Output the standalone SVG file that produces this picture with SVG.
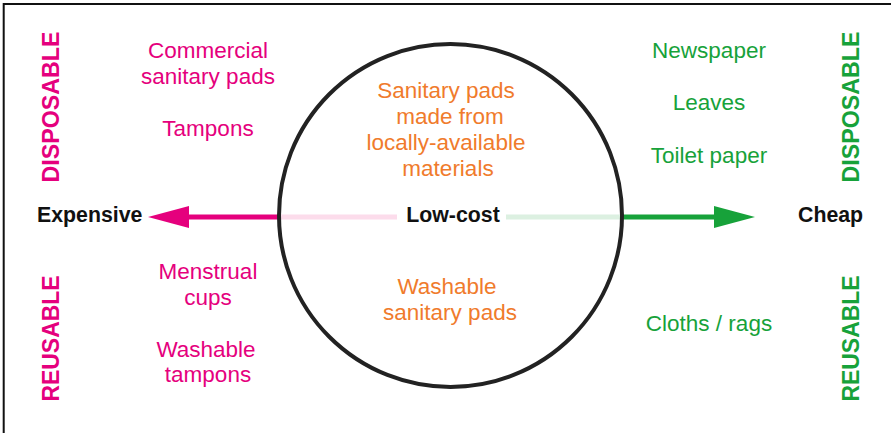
<svg xmlns="http://www.w3.org/2000/svg" width="891" height="433" viewBox="0 0 891 433">
  <style>
    text { font-family: "Liberation Sans", Arial, Helvetica, sans-serif; }
    .item { font-size: 22.5px; text-anchor: middle; }
    .pink { fill: #E5007D; }
    .green { fill: #17A23A; }
    .orange { fill: #F07B2C; }
    .axis { font-size: 21.3px; font-weight: bold; fill: #111; }
    .side { font-size: 24.5px; font-weight: bold; text-anchor: middle; }
  </style>
  <defs>
    <marker id="headPink" viewBox="0 0 41 22" refX="0" refY="11" markerWidth="41" markerHeight="22" markerUnits="userSpaceOnUse" orient="auto">
      <path d="M0,0 L41,11 L0,22 Z" fill="#E5007D"/>
    </marker>
    <marker id="headGreen" viewBox="0 0 41 22" refX="0" refY="11" markerWidth="41" markerHeight="22" markerUnits="userSpaceOnUse" orient="auto">
      <path d="M0,0 L41,11 L0,22 Z" fill="#17A23A"/>
    </marker>
  </defs>

  <rect width="891" height="433" fill="#fff"/>
  <!-- frame edges -->
  <path d="M3.7,433 V4 H891" fill="none" stroke="#111" stroke-width="2"/>

  <!-- cost axis -->
  <g id="connectors">
    <line x1="278" y1="217" x2="397" y2="217" stroke="#FCDCEB" stroke-width="5"/>
    <line x1="506" y1="217" x2="623" y2="217" stroke="#DCF0E1" stroke-width="5"/>
    <line x1="278" y1="217" x2="189" y2="217" stroke="#E5007D" stroke-width="5" marker-end="url(#headPink)"/>
    <line x1="623" y1="217" x2="714" y2="217" stroke="#17A23A" stroke-width="5" marker-end="url(#headGreen)"/>
  </g>

  <g id="low-cost-circle">
    <circle cx="450.5" cy="215.5" r="171.5" fill="none" stroke="#222" stroke-width="4"/>
  </g>

  <g id="axis-labels">
    <text class="axis" x="37" y="222">Expensive</text>
    <text class="axis" x="453" y="222" text-anchor="middle">Low-cost</text>
    <text class="axis" x="798" y="222">Cheap</text>
  </g>

  <g id="side-labels">
    <text class="side pink" transform="translate(59,107) rotate(-90)" textLength="151" lengthAdjust="spacingAndGlyphs">DISPOSABLE</text>
    <text class="side pink" transform="translate(59,338.5) rotate(-90)" textLength="126" lengthAdjust="spacingAndGlyphs">REUSABLE</text>
    <text class="side green" transform="translate(859,107) rotate(-90)" textLength="151" lengthAdjust="spacingAndGlyphs">DISPOSABLE</text>
    <text class="side green" transform="translate(859,338.5) rotate(-90)" textLength="126" lengthAdjust="spacingAndGlyphs">REUSABLE</text>
  </g>

  <g id="expensive-disposable">
    <text class="item pink" x="208" y="58">Commercial</text>
    <text class="item pink" x="208" y="83.5">sanitary pads</text>
    <text class="item pink" x="208" y="136">Tampons</text>
  </g>

  <g id="expensive-reusable">
    <text class="item pink" x="208" y="279">Menstrual</text>
    <text class="item pink" x="208" y="305">cups</text>
    <text class="item pink" x="206" y="357">Washable</text>
    <text class="item pink" x="208" y="382">tampons</text>
  </g>

  <g id="lowcost-disposable">
    <text class="item orange" x="446" y="98.3">Sanitary pads</text>
    <text class="item orange" x="450" y="124.3">made from</text>
    <text class="item orange" x="446" y="150.3">locally-available</text>
    <text class="item orange" x="448" y="176.3">materials</text>
  </g>

  <g id="lowcost-reusable">
    <text class="item orange" x="447" y="293.5">Washable</text>
    <text class="item orange" x="450" y="320">sanitary pads</text>
  </g>

  <g id="cheap-disposable">
    <text class="item green" x="709" y="58">Newspaper</text>
    <text class="item green" x="709" y="110">Leaves</text>
    <text class="item green" x="709" y="163">Toilet paper</text>
  </g>

  <g id="cheap-reusable">
    <text class="item green" x="709" y="331">Cloths / rags</text>
  </g>
</svg>
